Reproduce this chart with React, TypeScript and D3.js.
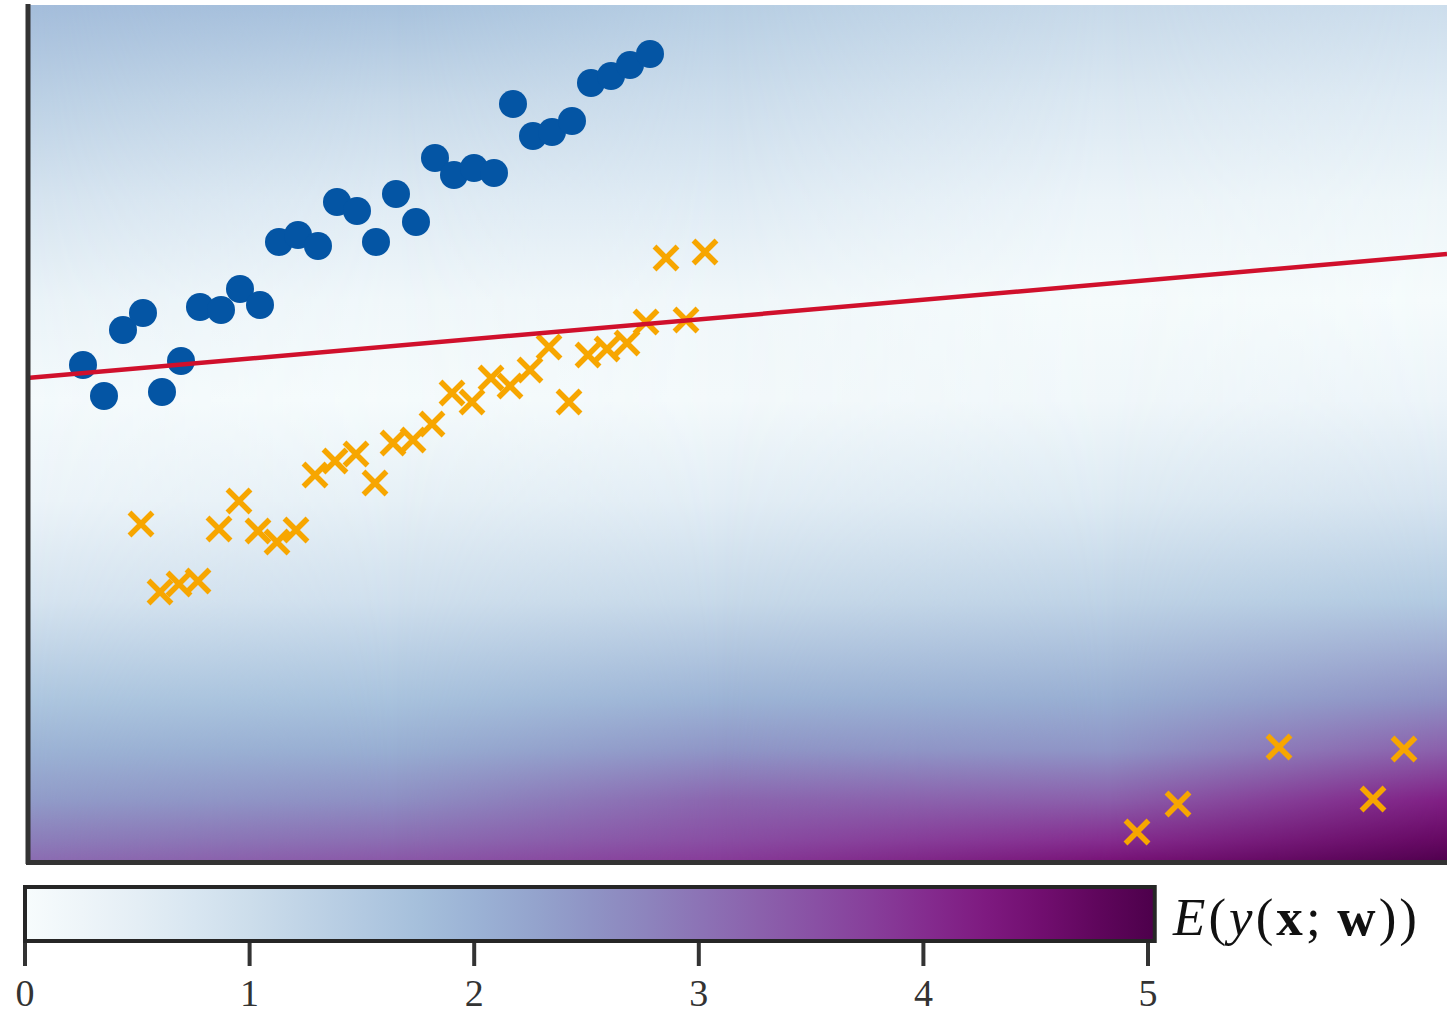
import React from 'react';
import * as d3 from 'd3';

// class 1 (blue circles)
const blueX = [0.56, 0.77, 0.96, 1.16, 1.35, 1.54, 1.73, 1.94, 2.13, 2.33, 2.52, 2.71, 2.91, 3.1, 3.3, 3.49, 3.69, 3.89, 4.08, 4.27, 4.47, 4.67, 4.86, 5.06, 5.25, 5.45, 5.64, 5.84, 6.03, 6.23];
const blueY = [4.95, 4.64, 5.3, 5.47, 4.68, 4.99, 5.53, 5.5, 5.71, 5.55, 6.18, 6.25, 6.14, 6.58, 6.49, 6.18, 6.66, 6.38, 7.02, 6.85, 6.92, 6.87, 7.56, 7.24, 7.28, 7.39, 7.77, 7.84, 7.95, 8.06];

// class 2 (orange crosses)
const orangeX = [1.14, 1.33, 1.52, 1.71, 1.92, 2.12, 2.31, 2.5, 2.69, 2.88, 3.08, 3.29, 3.48, 3.66, 3.86, 4.05, 4.25, 4.45, 4.64, 4.83, 5.03, 5.22, 5.42, 5.61, 5.8, 6.0, 6.19, 6.39, 6.59, 6.78];
const orangeY = [3.36, 2.68, 2.76, 2.79, 3.31, 3.59, 3.29, 3.18, 3.3, 3.85, 3.99, 4.06, 3.77, 4.17, 4.2, 4.36, 4.67, 4.58, 4.82, 4.74, 4.9, 5.13, 4.58, 5.05, 5.11, 5.17, 5.38, 6.02, 5.4, 6.08];

// outliers of class 2
const outlierX = [11.1, 11.51, 12.52, 13.46, 13.77];
const outlierY = [0.28, 0.56, 1.13, 0.61, 1.11];

// decision boundary
const lineX = [0, 14.2];
const lineY = [4.82, 6.06];

const fieldRows = [8.55, 7.6, 6.6, 5.6, 4.6, 3.6, 2.6, 1.6, 1.1, 0.6, 0.2, 0];
const fieldCols = [0, 3.68, 6.93, 10.83, 14.2];
const fieldCol0 = [1.8, 1.3, 0.8, 0.35, 0.08, 0.3, 0.8, 1.6, 2.0, 2.4, 2.85, 3.1];
const fieldCol1 = [1.7, 1.1, 0.6, 0.2, 0.05, 0.45, 0.95, 1.7, 2.1, 2.6, 3.1, 3.4];
const fieldCol2 = [1.4, 1.0, 0.6, 0.2, 0.12, 0.55, 1.1, 2.0, 2.5, 3.2, 3.55, 3.8];
const fieldCol3 = [1.1, 0.7, 0.3, 0.05, 0.2, 0.65, 1.25, 2.1, 2.5, 3.3, 4.0, 4.4];
const fieldCol4 = [1.0, 0.6, 0.25, 0.05, 0.3, 0.8, 1.5, 2.6, 3.3, 4.2, 4.7, 4.95];

// colorbar
const cbTicks = [0, 1, 2, 3, 4, 5];
const cbMax = 5.03;

const W = 1447;
const H = 1013;
const plot = { left: 28, top: 5, right: 1447, bottom: 861 };

export default function App() {
  const x = d3.scaleLinear().domain([0, 14.2]).range([27, 1447]);
  const y = d3.scaleLinear().domain([0, 8.55]).range([860, 5]);
  const color = (v: number) => d3.interpolateBuPu(Math.max(0, Math.min(1, v / 5)));
  const cb = d3.scaleLinear().domain([0, 5]).range([25, 1148]);

  const columns = [fieldCol0, fieldCol1, fieldCol2, fieldCol3, fieldCol4];
  const off = (gy: number) => (y(gy) - plot.top) / (plot.bottom - plot.top);
  const line = d3.line<number>().x((d, i) => x(lineX[i])).y((d, i) => y(lineY[i]));

  const pw = plot.right - plot.left;
  const ph = plot.bottom - plot.top;

  const cross = (cx: number, cy: number, k: string) => {
    const a = 11.5;
    return (
      <path
        key={k}
        d={`M${cx - a},${cy - a}L${cx + a},${cy + a}M${cx - a},${cy + a}L${cx + a},${cy - a}`}
        stroke="#f7a600"
        strokeWidth={5.5}
        fill="none"
      />
    );
  };

  const cbStops = d3.range(0, 21).map(i => i / 20);

  return (
    <svg width={W} height={H} style={{ position: 'absolute', left: 0, top: 0 }}>
      <defs>
        {columns.map((col, c) => (
          <linearGradient key={c} id={'gCol' + c} x1="0" y1="0" x2="0" y2="1">
            {fieldRows.map((r, i) => (
              <stop key={i} offset={off(r)} stopColor={color(col[i])} />
            ))}
          </linearGradient>
        ))}
        {columns.map((col, c) =>
          c === 0 ? null : (
            <React.Fragment key={c}>
              <linearGradient
                id={'gFade' + c}
                gradientUnits="userSpaceOnUse"
                x1={x(fieldCols[c - 1])}
                y1={0}
                x2={x(fieldCols[c])}
                y2={0}
              >
                <stop offset="0" stopColor="black" />
                <stop offset="1" stopColor="white" />
              </linearGradient>
              <mask id={'mFade' + c}>
                <rect x={plot.left} y={plot.top} width={pw} height={ph} fill={`url(#gFade${c})`} />
              </mask>
            </React.Fragment>
          )
        )}
        <linearGradient id="gBar" x1="0" y1="0" x2="1" y2="0">
          {cbStops.map((t, i) => (
            <stop key={i} offset={t} stopColor={color(t * cbMax)} />
          ))}
        </linearGradient>
      </defs>

      {/* background field */}
      {columns.map((col, c) => (
        <rect
          key={'f' + c}
          x={plot.left}
          y={plot.top}
          width={pw}
          height={ph}
          fill={`url(#gCol${c})`}
          mask={c === 0 ? undefined : `url(#mFade${c})`}
        />
      ))}

      {/* data */}
      {blueX.map((d, i) => (
        <circle key={'b' + i} cx={x(d)} cy={y(blueY[i])} r={14} fill="#0455a4" />
      ))}
      {orangeX.map((d, i) => cross(x(d), y(orangeY[i]), 'o' + i))}
      {outlierX.map((d, i) => cross(x(d), y(outlierY[i]), 'u' + i))}

      <path d={line(lineX) || ''} stroke="#d0102c" strokeWidth={4.5} fill="none" />

      {/* spines */}
      <line x1={28} x2={28} y1={4} y2={864} stroke="#333" strokeWidth={5} />
      <line x1={26} x2={W} y1={862.5} y2={862.5} stroke="#333" strokeWidth={5} />

      {/* colorbar */}
      <rect x={cb(0)} y={887} width={cb(cbMax) - cb(0)} height={54} fill="url(#gBar)" stroke="#262626" strokeWidth={4} />
      {cbTicks.map(t => (
        <g key={t}>
          <line x1={cb(t)} x2={cb(t)} y1={943} y2={966} stroke="#333" strokeWidth={4} />
          <text x={cb(t)} y={1006} textAnchor="middle" fontFamily="'Liberation Serif', serif" fontSize={38} fill="#333">
            {t}
          </text>
        </g>
      ))}
      <text x={1173} y={935} fontFamily="'Liberation Serif', serif" fontSize={53} fill="#111" textLength={244} lengthAdjust="spacing">
        <tspan fontStyle="italic">E</tspan>(<tspan fontStyle="italic">y</tspan>(<tspan fontWeight="bold">x</tspan>;{'\u2009'}<tspan fontWeight="bold">w</tspan>))
      </text>
    </svg>
  );
}
